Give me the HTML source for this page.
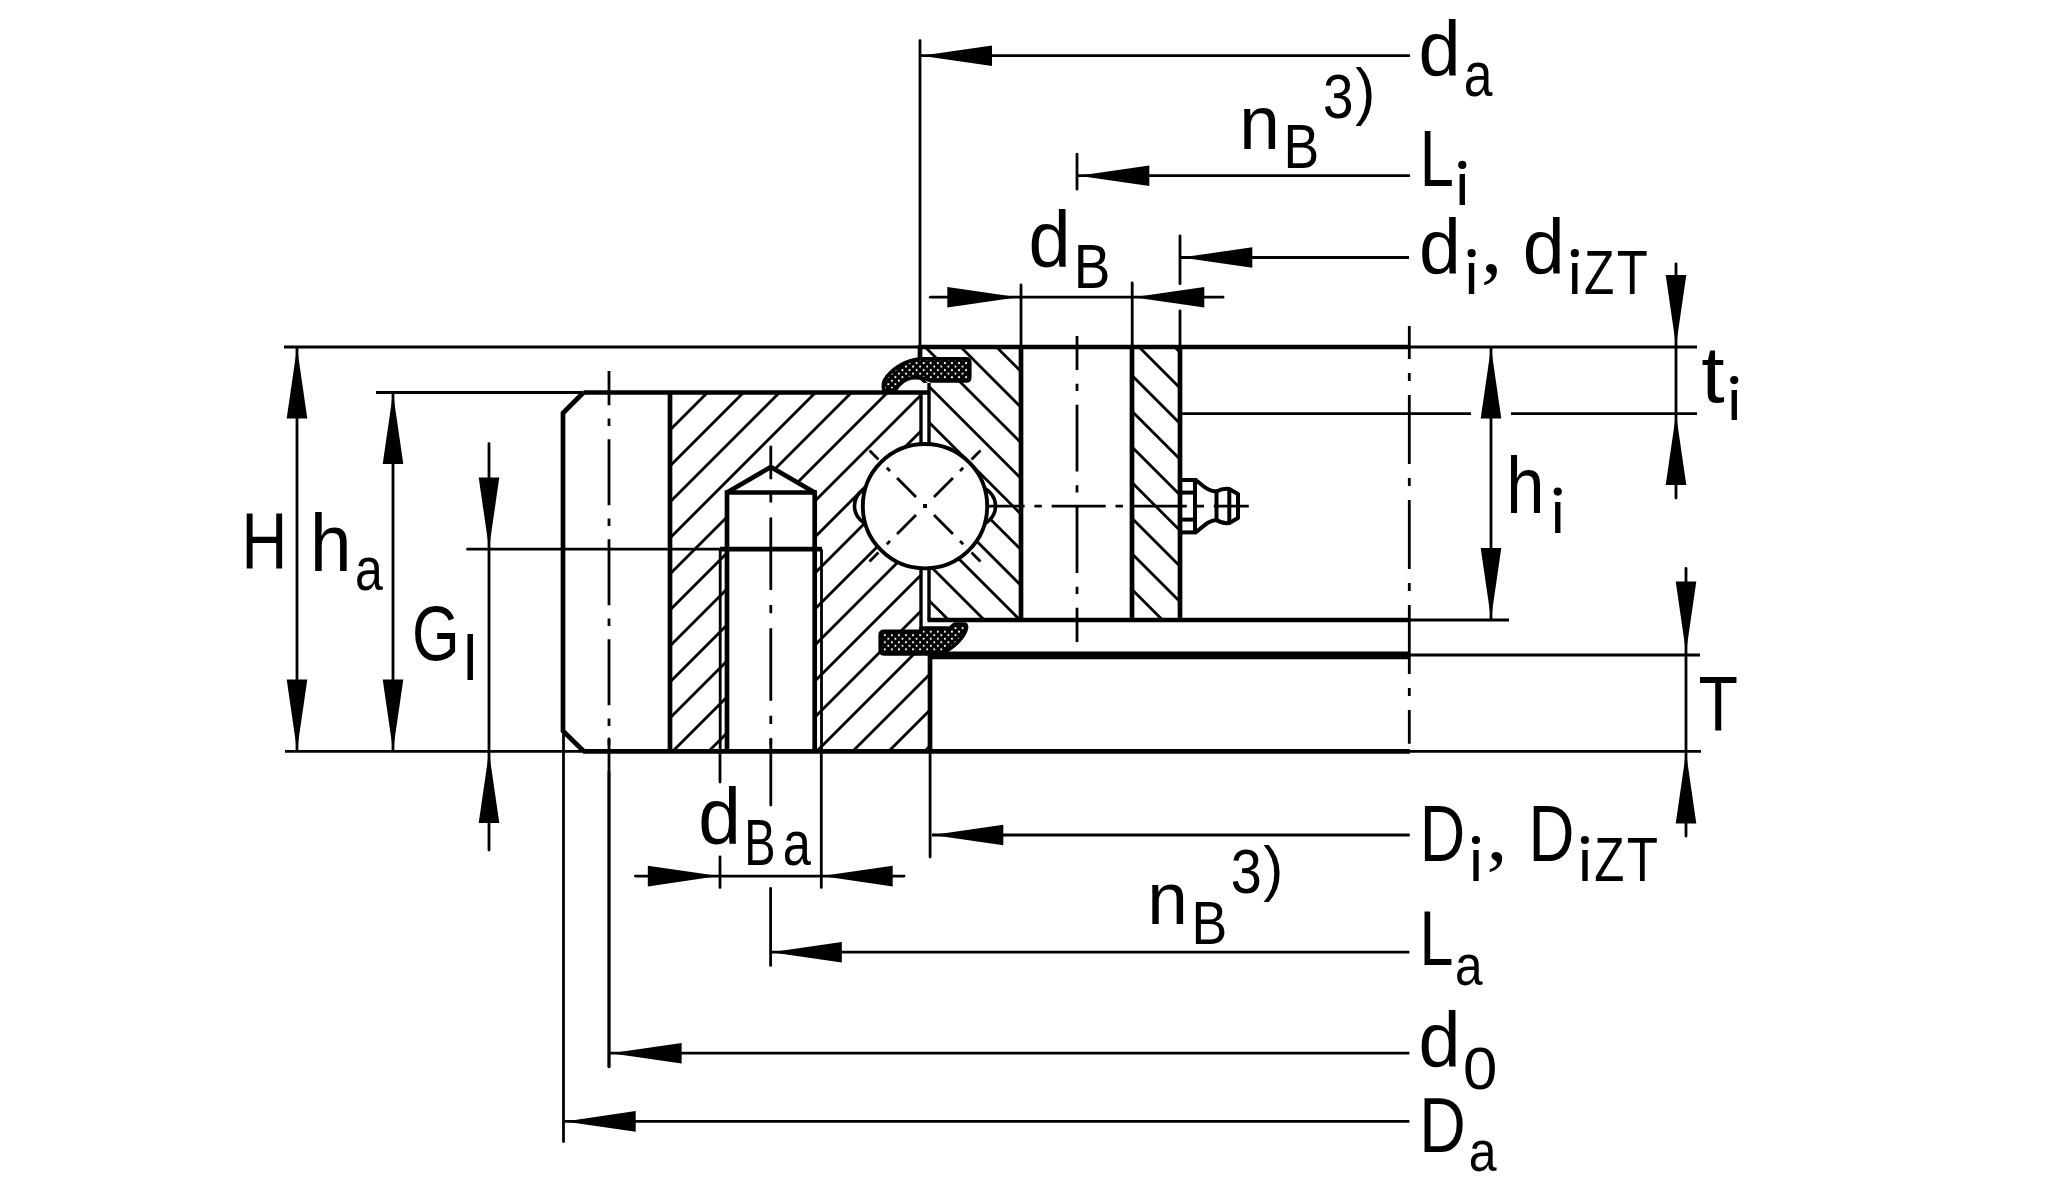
<!DOCTYPE html><html><head><meta charset="utf-8"><style>html,body{margin:0;padding:0;background:#fff;overflow:hidden}svg{display:block}text{font-family:"Liberation Sans",sans-serif;fill:#000}</style></head><body>
<svg width="2070" height="1200" viewBox="0 0 2070 1200">
<defs><pattern id="dots" patternUnits="userSpaceOnUse" width="7.07" height="7.07" x="916.6" y="363"><rect width="7.07" height="7.07" fill="#000"/><circle cx="0" cy="0" r="1.05" fill="#fff"/><circle cx="7.07" cy="0" r="1.05" fill="#fff"/><circle cx="0" cy="7.07" r="1.05" fill="#fff"/><circle cx="7.07" cy="7.07" r="1.05" fill="#fff"/><circle cx="3.535" cy="3.535" r="1.05" fill="#fff"/></pattern></defs>
<rect width="2070" height="1200" fill="#fff"/>
<g stroke="#000" fill="none" stroke-linecap="butt">
<clipPath id="co"><polygon points="670,392.5 921,392.5 921,655 930,655 930,751 670,751"/></clipPath>
<g clip-path="url(#co)">
<line x1="676.50" y1="387.5" x2="308.00" y2="756" stroke-width="2.8"/>
<line x1="712.50" y1="387.5" x2="344.00" y2="756" stroke-width="2.8"/>
<line x1="748.50" y1="387.5" x2="380.00" y2="756" stroke-width="2.8"/>
<line x1="784.50" y1="387.5" x2="416.00" y2="756" stroke-width="2.8"/>
<line x1="820.50" y1="387.5" x2="452.00" y2="756" stroke-width="2.8"/>
<line x1="856.50" y1="387.5" x2="488.00" y2="756" stroke-width="2.8"/>
<line x1="892.50" y1="387.5" x2="524.00" y2="756" stroke-width="2.8"/>
<line x1="928.50" y1="387.5" x2="560.00" y2="756" stroke-width="2.8"/>
<line x1="964.50" y1="387.5" x2="596.00" y2="756" stroke-width="2.8"/>
<line x1="1000.50" y1="387.5" x2="632.00" y2="756" stroke-width="2.8"/>
<line x1="1036.50" y1="387.5" x2="668.00" y2="756" stroke-width="2.8"/>
<line x1="1072.50" y1="387.5" x2="704.00" y2="756" stroke-width="2.8"/>
<line x1="1108.50" y1="387.5" x2="740.00" y2="756" stroke-width="2.8"/>
<line x1="1144.50" y1="387.5" x2="776.00" y2="756" stroke-width="2.8"/>
<line x1="1180.50" y1="387.5" x2="812.00" y2="756" stroke-width="2.8"/>
<line x1="1216.50" y1="387.5" x2="848.00" y2="756" stroke-width="2.8"/>
<line x1="1252.50" y1="387.5" x2="884.00" y2="756" stroke-width="2.8"/>
<line x1="1288.50" y1="387.5" x2="920.00" y2="756" stroke-width="2.8"/>
</g>
<clipPath id="ci"><polygon points="920,347 1021,347 1021,620 929,620 929,383 920,383"/></clipPath>
<g clip-path="url(#ci)">
<line x1="634.95" y1="342" x2="917.95" y2="625" stroke-width="2.8"/>
<line x1="670.60" y1="342" x2="953.60" y2="625" stroke-width="2.8"/>
<line x1="706.25" y1="342" x2="989.25" y2="625" stroke-width="2.8"/>
<line x1="741.90" y1="342" x2="1024.90" y2="625" stroke-width="2.8"/>
<line x1="777.55" y1="342" x2="1060.55" y2="625" stroke-width="2.8"/>
<line x1="813.20" y1="342" x2="1096.20" y2="625" stroke-width="2.8"/>
<line x1="848.85" y1="342" x2="1131.85" y2="625" stroke-width="2.8"/>
<line x1="884.50" y1="342" x2="1167.50" y2="625" stroke-width="2.8"/>
<line x1="920.15" y1="342" x2="1203.15" y2="625" stroke-width="2.8"/>
<line x1="955.80" y1="342" x2="1238.80" y2="625" stroke-width="2.8"/>
<line x1="991.45" y1="342" x2="1274.45" y2="625" stroke-width="2.8"/>
</g>
<clipPath id="cj"><polygon points="1132,347 1180,347 1180,620 1132,620"/></clipPath>
<g clip-path="url(#cj)">
<line x1="848.85" y1="342" x2="1131.85" y2="625" stroke-width="2.8"/>
<line x1="884.50" y1="342" x2="1167.50" y2="625" stroke-width="2.8"/>
<line x1="920.15" y1="342" x2="1203.15" y2="625" stroke-width="2.8"/>
<line x1="955.80" y1="342" x2="1238.80" y2="625" stroke-width="2.8"/>
<line x1="991.45" y1="342" x2="1274.45" y2="625" stroke-width="2.8"/>
<line x1="1027.10" y1="342" x2="1310.10" y2="625" stroke-width="2.8"/>
<line x1="1062.75" y1="342" x2="1345.75" y2="625" stroke-width="2.8"/>
<line x1="1098.40" y1="342" x2="1381.40" y2="625" stroke-width="2.8"/>
<line x1="1134.05" y1="342" x2="1417.05" y2="625" stroke-width="2.8"/>
<line x1="1169.70" y1="342" x2="1452.70" y2="625" stroke-width="2.8"/>
</g>
<rect x="921" y="383" width="8" height="247" fill="#fff" stroke="none"/>
<polygon points="727,492.5 770.8,467 814.7,492.5 814.7,751 727,751" fill="#fff" stroke="none"/>
<line x1="284" y1="347" x2="920" y2="347" stroke-width="2.8" />
<line x1="918" y1="347" x2="1410" y2="347" stroke-width="4.7" />
<line x1="1408" y1="347" x2="1697" y2="347" stroke-width="2.8" />
<line x1="376" y1="392.5" x2="583.5" y2="392.5" stroke-width="2.8" />
<line x1="583.5" y1="392.5" x2="928" y2="392.5" stroke-width="4.7" />
<polyline points="583.5,392.5 563,413 563,731 583.75,751.3" stroke-width="4.7"/>
<line x1="583" y1="751.3" x2="1410" y2="751.3" stroke-width="4.7" />
<line x1="285" y1="751.3" x2="585" y2="751.3" stroke-width="2.8" />
<line x1="1408" y1="751.3" x2="1701" y2="751.3" stroke-width="2.8" />
<line x1="670" y1="392.5" x2="670" y2="751.3" stroke-width="4.7" />
<line x1="921" y1="394" x2="921" y2="630" stroke-width="3.4" />
<line x1="929" y1="383" x2="929" y2="620" stroke-width="3.4" />
<line x1="930" y1="655" x2="930" y2="751.3" stroke-width="4.7" />
<line x1="927.5" y1="620" x2="1410" y2="620" stroke-width="4.7" />
<line x1="1408" y1="620" x2="1509" y2="620" stroke-width="2.8" />
<line x1="928" y1="655.4" x2="1410" y2="655.4" stroke-width="7.6" />
<line x1="1408" y1="655" x2="1700" y2="655" stroke-width="2.8" />
<line x1="1021" y1="347" x2="1021" y2="620" stroke-width="4.7" />
<line x1="1132" y1="347" x2="1132" y2="620" stroke-width="4.7" />
<line x1="1180" y1="347" x2="1180" y2="620" stroke-width="4.7" />
<line x1="920" y1="345" x2="920" y2="358" stroke-width="4.7" />
<line x1="1181" y1="413.7" x2="1471" y2="413.7" stroke-width="2.8" />
<line x1="1511" y1="413.7" x2="1697" y2="413.7" stroke-width="2.8" />
<circle cx="873.9" cy="506" r="19.4" fill="#fff" stroke-width="3.6"/>
<circle cx="976.1" cy="506" r="19.4" fill="#fff" stroke-width="3.6"/>
<circle cx="925" cy="506.2" r="62.2" fill="#fff" stroke-width="3.9"/>
<line x1="916.02" y1="497.02" x2="897.07" y2="478.07" stroke-width="2.8" />
<line x1="890.0" y1="471.0" x2="886.82" y2="467.82" stroke-width="2.8" />
<line x1="878.47" y1="459.47" x2="869.49" y2="450.49" stroke-width="2.8" />
<line x1="933.98" y1="497.02" x2="952.93" y2="478.07" stroke-width="2.8" />
<line x1="960.0" y1="471.0" x2="963.18" y2="467.82" stroke-width="2.8" />
<line x1="971.53" y1="459.47" x2="980.51" y2="450.49" stroke-width="2.8" />
<line x1="916.02" y1="514.98" x2="897.07" y2="533.93" stroke-width="2.8" />
<line x1="890.0" y1="541.0" x2="886.82" y2="544.18" stroke-width="2.8" />
<line x1="878.47" y1="552.53" x2="869.49" y2="561.51" stroke-width="2.8" />
<line x1="933.98" y1="514.98" x2="952.93" y2="533.93" stroke-width="2.8" />
<line x1="960.0" y1="541.0" x2="963.18" y2="544.18" stroke-width="2.8" />
<line x1="971.53" y1="552.53" x2="980.51" y2="561.51" stroke-width="2.8" />
<rect x="923" y="504" width="4" height="4" fill="#000" stroke="none"/>
<path d="M 919.5 358.7 L 966 358.7 Q 969.8 358.7 969.8 362.5 L 969.8 377.2 Q 969.8 381 966 381 L 932 381 C 926 378.5 918 377 911 378 C 904 379.5 899 384 895.5 390 L 884 390.5 C 882.5 386 883.5 381 886.5 377 C 893 369 903 361 919.5 358.7 Z" fill="url(#dots)" stroke-width="3.6" stroke-linejoin="round"/>
<path d="M 884 631.3 L 921 631.3 L 921 628 L 950 628 L 954.5 624 L 964 624 Q 966.6 624 966.6 627.5 C 965 637 954 648 941 653.9 L 884 653.9 Q 880.2 653.9 880.2 650 L 880.2 635 Q 880.2 631.3 884 631.3 Z" fill="url(#dots)" stroke-width="3.6" stroke-linejoin="round"/>
<polyline points="727,751.3 727,492.5 814.7,492.5 814.7,751.3" stroke-width="4.7"/>
<polyline points="727,492.5 770.8,467 814.7,492.5" stroke-width="4.7" stroke-linejoin="round"/>
<line x1="720" y1="549.2" x2="822" y2="549.2" stroke-width="4.7" />
<line x1="720.2" y1="549.2" x2="720.2" y2="751" stroke-width="2.8" />
<line x1="821.5" y1="549.2" x2="821.5" y2="751" stroke-width="2.8" />
<rect x="1180" y="480" width="15" height="52.4" stroke-width="4"/>
<line x1="1180" y1="492.6" x2="1195" y2="492.6" stroke-width="4" />
<line x1="1180" y1="519.6" x2="1195" y2="519.6" stroke-width="4" />
<path d="M 1195.5 480 C 1204 486 1207 491 1216.5 491.5 L 1216.5 520 C 1207 521 1204 526 1195.5 532.5" stroke-width="4"/>
<path d="M 1216.5 491.5 C 1221 489 1225 488.5 1229.3 489 L 1238 494 L 1238 518 L 1229.3 523 C 1225 523.5 1221 523 1216.5 520" stroke-width="4" stroke-linejoin="round"/>
<line x1="1229.3" y1="488.5" x2="1229.3" y2="523.5" stroke-width="4" />
<line x1="609" y1="370.9" x2="609" y2="745" stroke-width="2.8" stroke-dasharray="66 13.3 7.4 13.3" stroke-dashoffset="31.7"/>
<line x1="609" y1="739" x2="609" y2="1066.8" stroke-width="2.8" stroke-linecap="round"/>
<line x1="1077" y1="336" x2="1077" y2="642" stroke-width="2.8" stroke-dasharray="66.7 13.7 7.4 13.7" stroke-dashoffset="32.7"/>
<line x1="988" y1="506.2" x2="1248.8" y2="506.2" stroke-width="2.8" stroke-dasharray="54.1 9.8 7.4 9.8" stroke-dashoffset="17.5"/>
<line x1="1409.3" y1="326" x2="1409.3" y2="743.7" stroke-width="2.8" stroke-dasharray="69 14 8 14" stroke-dashoffset="36"/>
<line x1="770.8" y1="445.8" x2="770.8" y2="745" stroke-width="2.8" stroke-dasharray="72.5 15 8.3 15" stroke-dashoffset="39.1"/>
<line x1="770.8" y1="739.2" x2="770.8" y2="805" stroke-width="2.8" stroke-linecap="round"/>
<line x1="920" y1="40.7" x2="920" y2="358" stroke-width="2.8" stroke-linecap="round"/>
<line x1="921" y1="55.7" x2="1410" y2="55.7" stroke-width="2.8" />
<polygon points="921.00,55.70 992.00,45.40 992.00,66.00" fill="#000" stroke="none"/>
<line x1="1077" y1="154.2" x2="1077" y2="189.2" stroke-width="2.8" stroke-linecap="round"/>
<line x1="1078" y1="175.7" x2="1410" y2="175.7" stroke-width="2.8" />
<polygon points="1078.30,175.70 1149.30,165.40 1149.30,186.00" fill="#000" stroke="none"/>
<line x1="1180" y1="235.8" x2="1180" y2="283.7" stroke-width="2.8" stroke-linecap="round"/>
<line x1="1180" y1="310.8" x2="1180" y2="347" stroke-width="2.8" stroke-linecap="round"/>
<line x1="1181" y1="257.5" x2="1409" y2="257.5" stroke-width="2.8" />
<polygon points="1181.30,257.50 1252.30,247.20 1252.30,267.80" fill="#000" stroke="none"/>
<line x1="930.3" y1="297.2" x2="1223" y2="297.2" stroke-width="2.8" stroke-linecap="round"/>
<polygon points="1018.30,297.20 947.30,286.90 947.30,307.50" fill="#000" stroke="none"/>
<polygon points="1133.30,297.20 1204.30,286.90 1204.30,307.50" fill="#000" stroke="none"/>
<line x1="1021" y1="285" x2="1021" y2="347" stroke-width="2.8" stroke-linecap="round"/>
<line x1="1132.2" y1="283" x2="1132.2" y2="347" stroke-width="2.8" stroke-linecap="round"/>
<line x1="1676" y1="263.8" x2="1676" y2="498" stroke-width="2.8" stroke-linecap="round"/>
<polygon points="1676.00,346.00 1665.70,275.00 1686.30,275.00" fill="#000" stroke="none"/>
<polygon points="1676.00,414.00 1665.70,485.00 1686.30,485.00" fill="#000" stroke="none"/>
<line x1="1491" y1="347" x2="1491" y2="620" stroke-width="2.8" />
<polygon points="1491.00,347.50 1480.70,418.50 1501.30,418.50" fill="#000" stroke="none"/>
<polygon points="1491.00,619.00 1480.70,548.00 1501.30,548.00" fill="#000" stroke="none"/>
<line x1="1686" y1="568.3" x2="1686" y2="836" stroke-width="2.8" stroke-linecap="round"/>
<polygon points="1686.00,652.50 1675.70,581.50 1696.30,581.50" fill="#000" stroke="none"/>
<polygon points="1686.00,752.50 1675.70,823.50 1696.30,823.50" fill="#000" stroke="none"/>
<line x1="297" y1="347" x2="297" y2="751" stroke-width="2.8" />
<polygon points="297.00,347.50 286.70,418.50 307.30,418.50" fill="#000" stroke="none"/>
<polygon points="297.00,750.50 286.70,679.50 307.30,679.50" fill="#000" stroke="none"/>
<line x1="393" y1="392.5" x2="393" y2="751" stroke-width="2.8" />
<polygon points="393.00,393.00 382.70,464.00 403.30,464.00" fill="#000" stroke="none"/>
<polygon points="393.00,750.50 382.70,679.50 403.30,679.50" fill="#000" stroke="none"/>
<line x1="489" y1="443.7" x2="489" y2="850" stroke-width="2.8" stroke-linecap="round"/>
<polygon points="489.00,548.50 478.70,477.50 499.30,477.50" fill="#000" stroke="none"/>
<polygon points="489.00,752.00 478.70,823.00 499.30,823.00" fill="#000" stroke="none"/>
<line x1="467.6" y1="549.2" x2="722" y2="549.2" stroke-width="2.8" stroke-linecap="round"/>
<line x1="635.4" y1="876.1" x2="904.1" y2="876.1" stroke-width="2.8" stroke-linecap="round"/>
<polygon points="718.80,876.10 647.80,865.80 647.80,886.40" fill="#000" stroke="none"/>
<polygon points="821.70,876.10 892.70,865.80 892.70,886.40" fill="#000" stroke="none"/>
<line x1="720" y1="751" x2="720" y2="782" stroke-width="2.8" stroke-linecap="round"/>
<line x1="720" y1="857" x2="720" y2="887.4" stroke-width="2.8" stroke-linecap="round"/>
<line x1="821.3" y1="751" x2="821.3" y2="887.4" stroke-width="2.8" stroke-linecap="round"/>
<line x1="770.6" y1="888.5" x2="770.6" y2="965.4" stroke-width="2.8" stroke-linecap="round"/>
<line x1="930.1" y1="751" x2="930.1" y2="857" stroke-width="2.8" stroke-linecap="round"/>
<line x1="932" y1="835" x2="1409.7" y2="835" stroke-width="2.8" />
<polygon points="932.30,835.00 1003.30,824.70 1003.30,845.30" fill="#000" stroke="none"/>
<line x1="771" y1="952.2" x2="1409.4" y2="952.2" stroke-width="2.8" />
<polygon points="770.80,952.20 841.80,941.90 841.80,962.50" fill="#000" stroke="none"/>
<line x1="609" y1="772" x2="609" y2="1066.8" stroke-width="2.8" stroke-linecap="round"/>
<line x1="610" y1="1053.2" x2="1409.4" y2="1053.2" stroke-width="2.8" />
<polygon points="610.60,1053.20 681.60,1042.90 681.60,1063.50" fill="#000" stroke="none"/>
<line x1="563.5" y1="731" x2="563.5" y2="1141.6" stroke-width="2.8" stroke-linecap="round"/>
<line x1="565" y1="1121.4" x2="1409.4" y2="1121.4" stroke-width="2.8" />
<polygon points="564.70,1121.40 635.70,1111.10 635.70,1131.70" fill="#000" stroke="none"/>
</g>
<g>
<text transform="matrix(0.03702 0 0 0.03816 1418.52 76.24)" font-size="2048">d</text>
<text transform="matrix(0.02519 0 0 0.03048 1463.81 96.09)" font-size="2048">a</text>
<text transform="matrix(0.03563 0 0 0.03675 1239.15 148.50)" font-size="2048">n</text>
<text transform="matrix(0.02615 0 0 0.03052 1283.61 168.00)" font-size="2048">B</text>
<text transform="matrix(0.02678 0 0 0.03034 1322.91 117.89)" font-size="2048">3</text>
<text transform="matrix(0.02947 0 0 0.03040 1355.15 113.11)" font-size="2048">)</text>
<text transform="matrix(0.02990 0 0 0.03868 1419.68 185.80)" font-size="2048">L</text>
<circle cx="1462.3" cy="164.9" r="4.1" fill="#000" stroke="none"/>
<text transform="matrix(0.03000 0 0 0.02856 1453.78 205.00)" font-size="2048">&#305;</text>
<text transform="matrix(0.03702 0 0 0.03876 1028.52 267.22)" font-size="2048">d</text>
<text transform="matrix(0.02679 0 0 0.03073 1073.80 287.50)" font-size="2048">B</text>
<text transform="matrix(0.03670 0 0 0.03783 1418.94 273.54)" font-size="2048">d</text>
<circle cx="1471.6" cy="253.1" r="4.1" fill="#000" stroke="none"/>
<text transform="matrix(0.03000 0 0 0.02921 1463.08 293.90)" font-size="2048">&#305;</text>
<text transform="matrix(0.04164 0 0 0.04011 1481.05 272.56)" font-size="2048" style="font-family:&quot;Liberation Serif&quot;,serif">,</text>
<text transform="matrix(0.03681 0 0 0.03783 1522.73 273.54)" font-size="2048">d</text>
<circle cx="1574.85" cy="253.1" r="4.1" fill="#000" stroke="none"/>
<text transform="matrix(0.03000 0 0 0.02921 1566.33 293.90)" font-size="2048">&#305;</text>
<text transform="matrix(0.02424 0 0 0.03059 1584.12 293.90)" font-size="2048">Z</text>
<text transform="matrix(0.02478 0 0 0.03059 1616.86 293.90)" font-size="2048">T</text>
<text transform="matrix(0.04111 0 0 0.03918 1701.23 401.87)" font-size="2048">t</text>
<circle cx="1734.25" cy="380.1" r="4.1" fill="#000" stroke="none"/>
<text transform="matrix(0.03000 0 0 0.02837 1725.73 420.00)" font-size="2048">&#305;</text>
<text transform="matrix(0.03356 0 0 0.03875 1506.23 512.50)" font-size="2048">h</text>
<circle cx="1557.75" cy="491.6" r="4.1" fill="#000" stroke="none"/>
<text transform="matrix(0.03000 0 0 0.02930 1549.23 532.50)" font-size="2048">&#305;</text>
<text transform="matrix(0.03099 0 0 0.03847 241.59 567.50)" font-size="2048">H</text>
<text transform="matrix(0.03646 0 0 0.03982 310.02 570.90)" font-size="2048">h</text>
<text transform="matrix(0.02443 0 0 0.03012 355.07 590.10)" font-size="2048">a</text>
<text transform="matrix(0.02992 0 0 0.03793 411.92 660.24)" font-size="2048">G</text>
<text transform="matrix(0.03056 0 0 0.03032 463.28 680.00)" font-size="2048">l</text>
<text transform="matrix(0.03152 0 0 0.03825 1698.55 731.30)" font-size="2048">T</text>
<text transform="matrix(0.03746 0 0 0.03883 698.28 844.22)" font-size="2048">d</text>
<text transform="matrix(0.02294 0 0 0.03165 744.15 864.60)" font-size="2048">B</text>
<text transform="matrix(0.02471 0 0 0.03057 782.85 864.69)" font-size="2048">a</text>
<text transform="matrix(0.03075 0 0 0.03861 1419.63 861.00)" font-size="2048">D</text>
<circle cx="1475.95" cy="840.0" r="4.1" fill="#000" stroke="none"/>
<text transform="matrix(0.03000 0 0 0.02893 1467.43 880.50)" font-size="2048">&#305;</text>
<text transform="matrix(0.04098 0 0 0.03859 1486.60 859.74)" font-size="2048" style="font-family:&quot;Liberation Serif&quot;,serif">,</text>
<text transform="matrix(0.03108 0 0 0.03861 1528.48 861.00)" font-size="2048">D</text>
<circle cx="1584.9" cy="840.0" r="4.1" fill="#000" stroke="none"/>
<text transform="matrix(0.03000 0 0 0.02893 1576.38 880.50)" font-size="2048">&#305;</text>
<text transform="matrix(0.02406 0 0 0.03052 1594.34 880.50)" font-size="2048">Z</text>
<text transform="matrix(0.02496 0 0 0.03052 1626.85 880.50)" font-size="2048">T</text>
<text transform="matrix(0.03563 0 0 0.03630 1147.15 924.00)" font-size="2048">n</text>
<text transform="matrix(0.02615 0 0 0.03016 1191.61 943.50)" font-size="2048">B</text>
<text transform="matrix(0.02729 0 0 0.03034 1230.87 893.39)" font-size="2048">3</text>
<text transform="matrix(0.02947 0 0 0.03014 1263.15 888.72)" font-size="2048">)</text>
<text transform="matrix(0.02979 0 0 0.03825 1419.50 964.70)" font-size="2048">L</text>
<text transform="matrix(0.02424 0 0 0.02781 1454.89 985.44)" font-size="2048">a</text>
<text transform="matrix(0.03692 0 0 0.03763 1418.43 1067.25)" font-size="2048">d</text>
<text transform="matrix(0.03013 0 0 0.02924 1463.09 1088.82)" font-size="2048">0</text>
<text transform="matrix(0.03149 0 0 0.03818 1419.21 1151.70)" font-size="2048">D</text>
<text transform="matrix(0.02443 0 0 0.02772 1468.87 1170.95)" font-size="2048">a</text>
</g>
</svg></body></html>
